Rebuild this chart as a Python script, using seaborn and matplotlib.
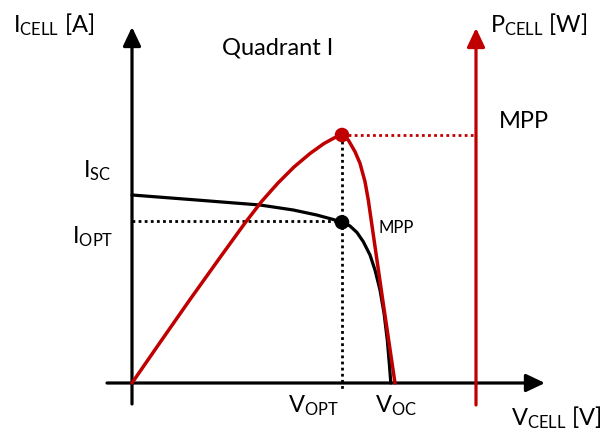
import matplotlib
matplotlib.use("Agg")
import matplotlib.pyplot as plt
from matplotlib.transforms import Affine2D
import seaborn as sns
import pandas as pd

# ---- data (normalised: V/Voc, I/Isc, P/Pmax) ----
iv_v = [0.0, 0.2488, 0.4923, 0.6204, 0.7104, 0.7742, 0.8077, 0.8385, 0.8654,
        0.8896, 0.9154, 0.9346, 0.9538, 0.9692, 0.9819, 0.9904, 0.9954]
iv_i = [1.0, 0.9734, 0.9468, 0.9202, 0.8936, 0.8697, 0.8548, 0.8351, 0.8005,
        0.7516, 0.6809, 0.6011, 0.4947, 0.3723, 0.2287, 0.0904, 0.0]
pv_v = [0.0, 0.1077, 0.2231, 0.3385, 0.4346, 0.5, 0.5615, 0.6231, 0.6846, 0.7385,
        0.7769, 0.8077, 0.8319, 0.8577, 0.8769, 0.8962, 0.9088, 0.9596, 1.0115]
pv_p = [0.0, 0.1633, 0.3367, 0.5060, 0.6452, 0.7339, 0.8065, 0.8710, 0.9254, 0.9657,
        0.9879, 1.0, 0.9798, 0.9327, 0.8859, 0.8117, 0.7379, 0.3690, 0.0]
v_opt, i_opt, p_max = 0.8077, 0.8548, 1.0

RED = "#C00000"
W, H = 606, 430

sns.set_style("white")
plt.rcParams["font.family"] = ["Lato", "DejaVu Sans"]
plt.rcParams["mathtext.fontset"] = "custom"
plt.rcParams["mathtext.rm"] = "Lato"
plt.rcParams["mathtext.it"] = "Lato"

fig = plt.figure(figsize=(W / 100, H / 100), dpi=100)
ax = fig.add_axes([0, 0, 1, 1])
ax2 = ax.twinx()
# layout: origin at pixel (132,383); 260 px per V unit, 188 px per I unit, 248 px per P unit
ox, oy, sx, si, sp = 132, 383, 260, 188, 248
ax.set_xlim(-ox / sx, (W - ox) / sx)
ax.set_ylim((oy - H) / si, oy / si)
ax2.set_ylim((oy - H) / sp, oy / sp)

px = Affine2D().scale(1 / W, -1 / H).translate(0, 1) + fig.transFigure

def arrow(x0, y0, x1, y1, color):
    ax.annotate("", xy=(x1, y1), xytext=(x0, y0), xycoords=px, textcoords=px,
                arrowprops=dict(arrowstyle="-|>,head_length=0.95,head_width=0.45",
                                mutation_scale=12, lw=2.3, color=color,
                                shrinkA=0, shrinkB=0), zorder=5)

arrow(132, 404, 132, 27, "black")
arrow(107, 383, 545, 383, "black")
arrow(476, 405, 476, 28, RED)

# dotted guides
ax.plot([0, v_opt], [(oy - 221) / si, (oy - 221) / si], color="black", lw=2,
        ls=(0, (1, 1.2)), zorder=2)
ax.plot([v_opt, v_opt], [(oy - 135) / si, (oy - 390) / si], color="black", lw=2,
        ls=(0, (1, 1.2)), zorder=2)
ax2.plot([v_opt, (476 - ox) / sx], [p_max, p_max], color=RED, lw=2,
         ls=(0, (1, 1.2)), zorder=2)

# curves
df_iv = pd.DataFrame({"V": iv_v, "I": iv_i})
df_pv = pd.DataFrame({"V": pv_v, "P": pv_p})
sns.lineplot(data=df_iv, x="V", y="I", ax=ax, sort=False, estimator=None,
             color="black", lw=2.3, zorder=3, solid_joinstyle="round")
sns.lineplot(data=df_pv, x="V", y="P", ax=ax2, sort=False, estimator=None,
             color=RED, lw=2.5, zorder=3, solid_joinstyle="round")
sns.scatterplot(x=[v_opt], y=[i_opt], ax=ax, color="black", s=110, zorder=6,
                edgecolor="none")
sns.scatterplot(x=[v_opt], y=[p_max], ax=ax2, color=RED, s=110, zorder=6,
                edgecolor="none")
for a in (ax, ax2):
    if a.get_legend():
        a.get_legend().remove()
    a.set_axis_off()

big = 17
small = 12
def txt(x, y, s, size=big):
    ax.text(x, y, s, transform=px, fontsize=size, ha="left", va="baseline",
            color="black")

txt(13, 32, r"I$_{\mathrm{CELL}}$ [A]")
txt(222, 55, "Quadrant I")
txt(490, 32, r"P$_{\mathrm{CELL}}$ [W]")
txt(499, 128, "MPP")
txt(83, 177, r"I$_{\mathrm{SC}}$")
txt(72, 243, r"I$_{\mathrm{OPT}}$")
txt(378, 233, "MPP", small)
txt(288, 412, r"V$_{\mathrm{OPT}}$")
txt(375, 412, r"V$_{\mathrm{OC}}$")
txt(511, 425, r"V$_{\mathrm{CELL}}$ [V]")

fig.savefig("out.png", dpi=100, facecolor="white")
